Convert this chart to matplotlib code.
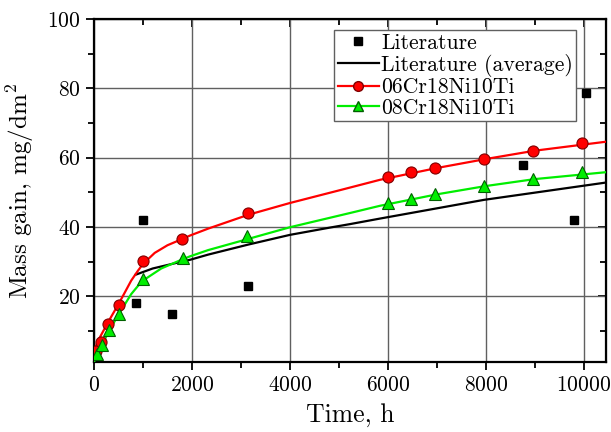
import numpy as np
import matplotlib
matplotlib.use('Agg')
import matplotlib.pyplot as plt
from matplotlib.lines import Line2D

# literature scatter
lit_t = [850, 1000, 1600, 3150, 8750, 9800, 10050]
lit_m = [18.0, 42.0, 15.0, 23.0, 58.0, 42.0, 78.5]

# literature average
avg_t = [850, 1200, 1800, 1960, 2330, 3150, 4000, 4816, 5224, 5837, 7959, 10450]
avg_m = [26.2, 28.0, 30.0, 30.5, 32.0, 34.9, 37.7, 39.8, 40.8, 42.4, 47.8, 52.8]

# 06Cr18Ni10Ti
s06_t = [50, 136, 290, 505, 995, 1800, 3150, 6000, 6470, 6970, 7960, 8960, 9960]
s06_m = [4.2, 6.8, 11.9, 17.5, 30.1, 36.5, 43.9, 54.4, 55.9, 57.1, 59.7, 62.0, 64.2]
f06_t = [0, 100, 200, 300, 500, 600, 760, 900, 1000, 1240, 1500, 1800, 1960,
         2330, 3150, 4000, 5020, 5840, 7000, 8000, 9000, 10460]
f06_m = [4.3, 7.6, 10.2, 12.8, 17.7, 20.3, 24.5, 27.4, 29.3, 32.5, 34.7, 36.5,
         37.5, 39.5, 43.5, 46.9, 50.6, 53.6, 57.0, 59.6, 62.0, 64.6]

# 08Cr18Ni10Ti
s08_t = [70, 160, 305, 510, 1005, 1810, 3130, 6000, 6470, 6970, 7960, 8960, 9960]
s08_m = [3.4, 6.0, 10.1, 14.9, 25.1, 30.9, 37.4, 46.9, 48.1, 49.5, 51.7, 53.8, 55.7]
f08_t = [0, 70, 160, 300, 510, 760, 900, 1020, 1374, 1800, 1960, 2330, 3116,
         4000, 5224, 5840, 7000, 8000, 9000, 10460]
f08_m = [1.0, 3.3, 5.8, 9.8, 14.9, 20.6, 23.0, 24.7, 28.0, 30.6, 31.5, 33.3,
         36.4, 39.9, 44.0, 46.1, 49.4, 51.8, 53.8, 55.8]

plt.rcParams['font.family'] = 'cmr10'
plt.rcParams['mathtext.fontset'] = 'cm'
plt.rcParams['axes.formatter.use_mathtext'] = True

fig = plt.figure(figsize=(6.11, 4.32), dpi=100)
ax = fig.add_axes([0.1538, 0.162, 0.8380, 0.794])

ax.grid(True, color='#606060', lw=1.0)
ax.set_axisbelow(True)

ax.plot(avg_t, avg_m, color='black', lw=1.6, zorder=3)
ax.plot(f06_t, f06_m, color='#ff0000', lw=1.6, zorder=3)
ax.plot(f08_t, f08_m, color='#00ee00', lw=1.6, zorder=3)
ax.plot(lit_t, lit_m, 's', color='black', ms=6, zorder=4)
ax.plot(s06_t, s06_m, 'o', mfc='#ff0000', mec='#800000', mew=0.8, ms=8, zorder=4)
ax.plot(s08_t, s08_m, '^', mfc='#00ee00', mec='#006000', mew=0.8, ms=8.5, zorder=4)

ax.set_xlim(0, 10450)
ax.set_ylim(1, 100)
ax.set_xticks(np.arange(0, 10001, 2000))
ax.set_xticks(np.arange(1000, 10001, 2000), minor=True)
ax.set_yticks([20, 40, 60, 80, 100])
ax.set_yticks([10, 30, 50, 70, 90], minor=True)
ax.tick_params(which='both', direction='out', labelsize=15.5, width=1.3)
ax.tick_params(which='major', length=6)
ax.tick_params(which='minor', length=4)
for sp in ax.spines.values():
    sp.set_linewidth(1.6)

top = ax.secondary_xaxis('top')
top.set_xticks(np.arange(0, 10001, 2000))
top.set_xticks(np.arange(1000, 10001, 2000), minor=True)
top.tick_params(which='both', direction='in', labeltop=False, width=1.3)
top.tick_params(which='major', length=6)
top.tick_params(which='minor', length=4)
right = ax.secondary_yaxis('right')
right.set_yticks([20, 40, 60, 80, 100])
right.set_yticks([10, 30, 50, 70, 90], minor=True)
right.tick_params(which='both', direction='in', labelright=False, width=1.3)
right.tick_params(which='major', length=6)
right.tick_params(which='minor', length=4)

ax.set_xlabel('Time, h', fontsize=18.5, labelpad=6)
ax.set_ylabel('Mass gain, mg/dm$^2$', fontsize=18, labelpad=8)

handles = [
    Line2D([], [], ls='none', marker='s', color='black', ms=6),
    Line2D([], [], color='black', lw=1.6),
    Line2D([], [], color='#ff0000', lw=1.6, marker='o', mfc='#ff0000',
           mec='#800000', ms=7),
    Line2D([], [], color='#00ee00', lw=1.6, marker='^', mfc='#00ee00',
           mec='#006000', ms=7.5),
]
labels = ['Literature', 'Literature (average)', '06Cr18Ni10Ti', '08Cr18Ni10Ti']
leg = ax.legend(handles, labels, loc='upper right', bbox_to_anchor=(0.942, 0.968),
                borderaxespad=0, fontsize=15.7, fancybox=False, framealpha=1,
                edgecolor='#606060', handlelength=1.9, handletextpad=0.1,
                labelspacing=0.05, borderpad=0.15)
leg.get_frame().set_linewidth(1.0)

fig.savefig('out.png', dpi=100)
